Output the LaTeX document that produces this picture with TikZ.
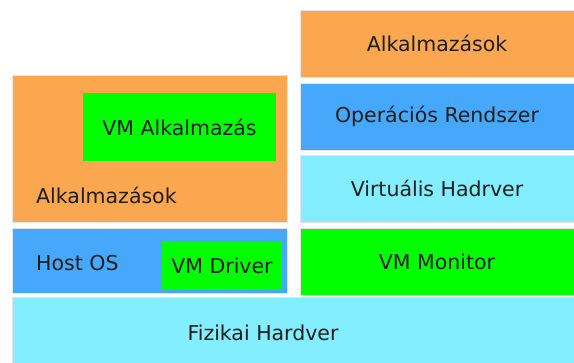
\documentclass[tikz,border=0pt]{standalone}
\usepackage{fontspec}
\setmainfont{DejaVu Sans}
\definecolor{corange}{RGB}{251,167,79}
\definecolor{cblue}{RGB}{69,168,250}
\definecolor{ccyan}{RGB}{130,238,255}
\definecolor{cgreen}{RGB}{0,255,0}
\definecolor{ctext}{RGB}{30,30,30}
\begin{document}
\begin{tikzpicture}[x=1pt,y=-1pt,
  layer/.style={draw=gray!20, line width=0.6pt, inner sep=0pt, outer sep=0pt, anchor=north west, text=ctext, font=\fontsize{20.5}{24}\selectfont},
  lbl/.style={inner sep=0pt, text=ctext, font=\fontsize{20.5}{24}\selectfont}]
\useasboundingbox (0,0) rectangle (574,363);
\fill[white] (0,0) rectangle (574,363);
% left column
\node[layer, fill=corange, minimum width=275pt, minimum height=147pt] (lapp) at (12,75) {};
\node[layer, draw=none, fill=cgreen, minimum width=193pt, minimum height=68pt] (vmapp) at (83,93) {VM Alkalmazás};
\node[lbl, anchor=west] (lapptxt) at (36,195) {Alkalmazások};
\node[layer, fill=cblue, minimum width=275pt, minimum height=65pt] (host) at (12,228) {};
\node[lbl, anchor=west] (hosttxt) at (36,263) {Host OS};
\node[layer, draw=none, fill=cgreen, minimum width=120pt, minimum height=49pt] (drv) at (162,241) {VM Driver};
% right column
\node[layer, fill=corange, minimum width=274pt, minimum height=67pt] (rapp) at (300,10) {Alkalmazások};
\node[layer, fill=cblue, minimum width=274pt, minimum height=67pt] (os) at (300,83) {Operációs Rendszer};
\node[layer, fill=ccyan, minimum width=274pt, minimum height=67pt] (vhw) at (300,155) {Virtuális Hadrver};
\node[layer, fill=cgreen, minimum width=274pt, minimum height=67pt] (vmm) at (300,228) {VM Monitor};
% bottom
\node[layer, fill=ccyan, minimum width=562pt, minimum height=66pt] (hw) at (12,297) {};
\node[lbl] (hwtxt) at (263,333) {Fizikai Hardver};
\end{tikzpicture}
\end{document}
